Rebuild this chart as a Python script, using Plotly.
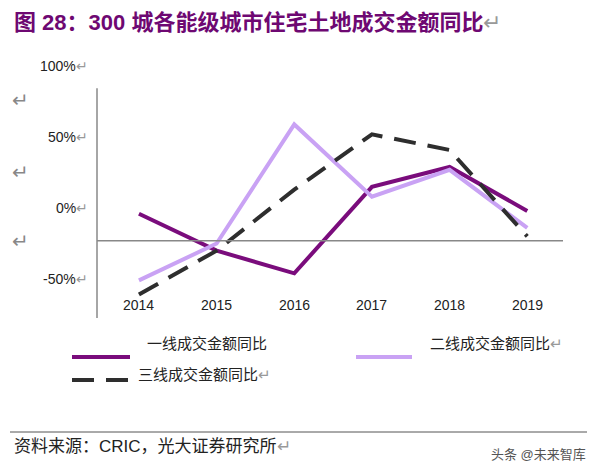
import plotly.graph_objects as go

years = [2014, 2015, 2016, 2017, 2018, 2019]
tier1 = [-4, -30, -46, 15, 29, -2]
tier2 = [-51, -25, 59, 8, 27, -14]
tier3 = [-61, -30, 13, 52, 41, -20]
y_ticks = [100, 50, 0, -50]
y_labels = ["100%", "50%", "0%", "-50%"]

# page coords of the reference; the page body adds an 8px offset
O = 8
W, H = 597 - 2 * O, 475 - 2 * O
L, R, T, B = 97, 563, 45, 318

def px(x):
    return (x - L) / (R - L)

def py(y):
    return (B - y) / (B - T)

dash = "22px,12px"
fig = go.Figure()
fig.add_trace(go.Scatter(x=years, y=tier1, mode="lines", line=dict(color="#7A0C7C", width=4)))
fig.add_trace(go.Scatter(x=years, y=tier2, mode="lines", line=dict(color="#C9A2F4", width=4)))
fig.add_trace(go.Scatter(x=years, y=tier3, mode="lines", line=dict(color="#2E2E2E", width=4, dash=dash)))

shapes = [
    dict(type="line", xref="paper", yref="y", x0=0, x1=0, y0=84.5, y1=-77.5, line=dict(color="#888", width=1.5)),
    dict(type="line", xref="paper", yref="y", x0=0, x1=1, y0=-23, y1=-23, line=dict(color="#888", width=1.5)),
    dict(type="line", xref="paper", yref="paper", x0=px(72), x1=px(130), y0=py(357), y1=py(357), line=dict(color="#7A0C7C", width=4)),
    dict(type="line", xref="paper", yref="paper", x0=px(356), x1=px(412), y0=py(357), y1=py(357), line=dict(color="#C9A2F4", width=4)),
    dict(type="line", xref="paper", yref="paper", x0=px(72), x1=px(130), y0=py(380), y1=py(380), line=dict(color="#2E2E2E", width=4, dash=dash)),
    dict(type="line", xref="paper", yref="paper", x0=px(10), x1=px(587), y0=py(432), y1=py(432), line=dict(color="#555", width=1)),
]

f = "Arial, Liberation Sans, Noto Sans CJK SC"
ann = []
for v, t in zip(y_ticks, y_labels):
    ann.append(dict(x=px(90), y=v, xref="paper", yref="y", text=t + "<span style='color:#999'>↵</span>",
                    showarrow=False, xanchor="right", yanchor="middle", font=dict(size=14, color="#222", family=f)))
for p in [100, 172, 241]:
    ann.append(dict(x=px(20), y=py(p), xref="paper", yref="paper", text="↵", showarrow=False,
                    xanchor="center", yanchor="middle", font=dict(size=20, color="#888", family=f)))
for yr in years:
    ann.append(dict(x=yr, y=-68, xref="x", yref="y", text=str(yr), showarrow=False,
                    xanchor="center", yanchor="middle", font=dict(size=14, color="#222", family=f)))

def label(x, y, text, size=14, color="#222", anchor="left"):
    return dict(x=px(x), y=py(y), xref="paper", yref="paper", xanchor=anchor, yanchor="middle",
                showarrow=False, text=text, font=dict(size=size, color=color, family=f))

ann += [
    label(12, 22, "<b>图 28：300 城各能级城市住宅土地成交金额同比</b><span style='color:#999'>↵</span>", 22, "#6E0872"),
    label(145, 343, "一线成交金额同比", 15),
    label(428, 343, "二线成交金额同比<span style='color:#999'>↵</span>", 15),
    label(136, 374, "三线成交金额同比<span style='color:#999'>↵</span>", 15),
    label(12, 446, "资料来源：CRIC，光大证券研究所<span style='color:#999'>↵</span>", 17),
    label(588, 454, "头条 @未来智库", 13, "#555", "right"),
]

fig.update_layout(
    width=W, height=H,
    margin=dict(l=L - O, r=W - (R - O), t=T - O, b=H - (B - O)),
    paper_bgcolor="white", plot_bgcolor="white", showlegend=False,
    xaxis=dict(range=[2013.46, 2019.46], visible=False),
    yaxis=dict(range=[-77.5, 115], visible=False),
    shapes=shapes, annotations=ann,
)
fig.write_html("out.html")
